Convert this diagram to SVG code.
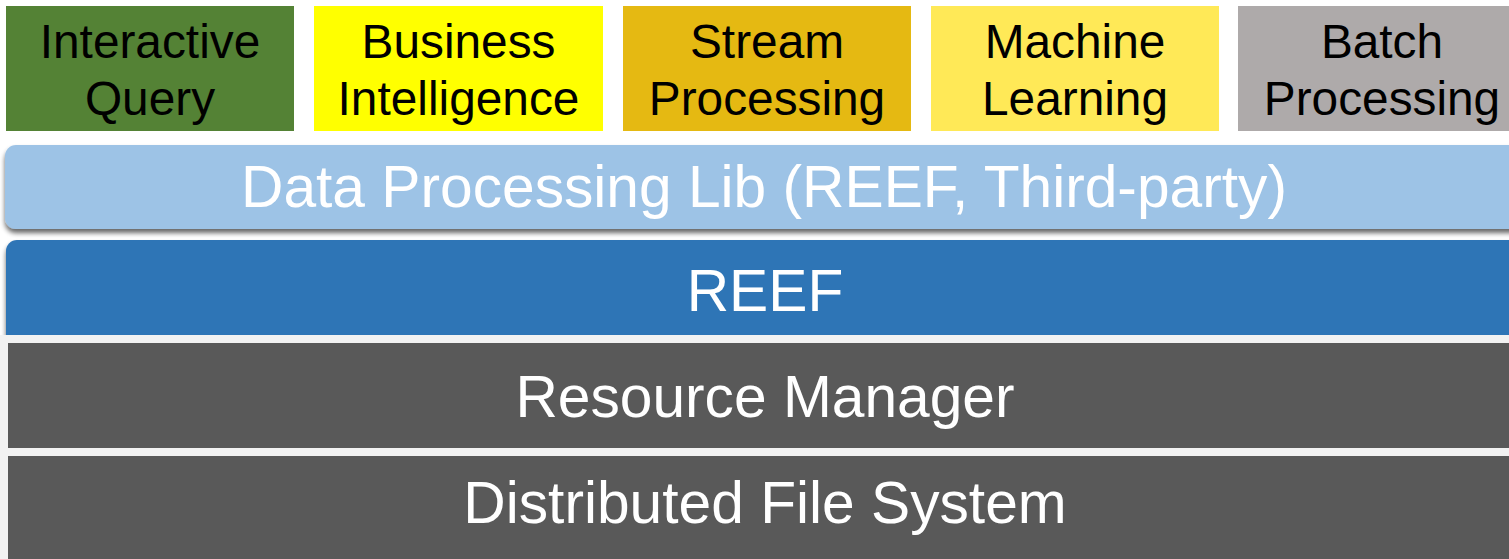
<svg xmlns="http://www.w3.org/2000/svg" width="1509" height="559" viewBox="0 0 1509 559">
<style>
.top{font-family:"Liberation Sans",Arial,sans-serif;font-size:47.8px;fill:#000;text-anchor:middle}
.bar{font-family:"Liberation Sans",Arial,sans-serif;font-size:58.7px;fill:#fff;text-anchor:middle}
</style>
<defs>
<filter id="sh" x="-5%" y="-20%" width="110%" height="150%">
<feGaussianBlur in="SourceAlpha" stdDeviation="2.5"/>
<feOffset dx="0" dy="4" result="b"/>
<feComponentTransfer><feFuncA type="linear" slope="0.6"/></feComponentTransfer>
<feMerge><feMergeNode/><feMergeNode in="SourceGraphic"/></feMerge>
</filter>
</defs>
<rect x="0" y="0" width="1509" height="559" fill="#ffffff"/>
<g id="interactive-query">
<rect x="6" y="6" width="288" height="125" fill="#548235"/>
<text class="top" x="150" y="58">Interactive</text>
<text class="top" x="150" y="115">Query</text>
</g>
<g id="business-intelligence">
<rect x="314" y="6" width="289" height="125" fill="#ffff00"/>
<text class="top" x="458.5" y="58">Business</text>
<text class="top" x="458.5" y="115">Intelligence</text>
</g>
<g id="stream-processing">
<rect x="623" y="6" width="288" height="125" fill="#e5b912"/>
<text class="top" x="767" y="58">Stream</text>
<text class="top" x="767" y="115">Processing</text>
</g>
<g id="machine-learning">
<rect x="931" y="6" width="288" height="125" fill="#ffe957"/>
<text class="top" x="1075" y="58">Machine</text>
<text class="top" x="1075" y="115">Learning</text>
</g>
<g id="batch-processing">
<rect x="1238" y="6" width="290" height="125" fill="#aeaaaa"/>
<text class="top" x="1382" y="58">Batch</text>
<text class="top" x="1382" y="115">Processing</text>
</g>
<g id="data-processing-lib">
<rect x="5" y="145" width="1530" height="84" rx="11" fill="#9dc3e6" filter="url(#sh)"/>
<text class="bar" x="764" y="207">Data Processing Lib (REEF, Third-party)</text>
</g>
<g id="reef">
<rect x="6" y="240" width="1530" height="110" rx="11" fill="#2e75b6" filter="url(#sh)"/>
<text class="bar" x="765" y="311">REEF</text>
</g>
<rect x="0" y="335" width="1509" height="224" fill="#f2f2f2"/>
<g id="resource-manager">
<rect x="8" y="343" width="1510" height="105" fill="#595959"/>
<text class="bar" x="765" y="417">Resource Manager</text>
</g>
<g id="distributed-file-system">
<rect x="8" y="456" width="1510" height="110" fill="#595959"/>
<text class="bar" x="765" y="523">Distributed File System</text>
</g>
<g id="connectors"></g>
</svg>
